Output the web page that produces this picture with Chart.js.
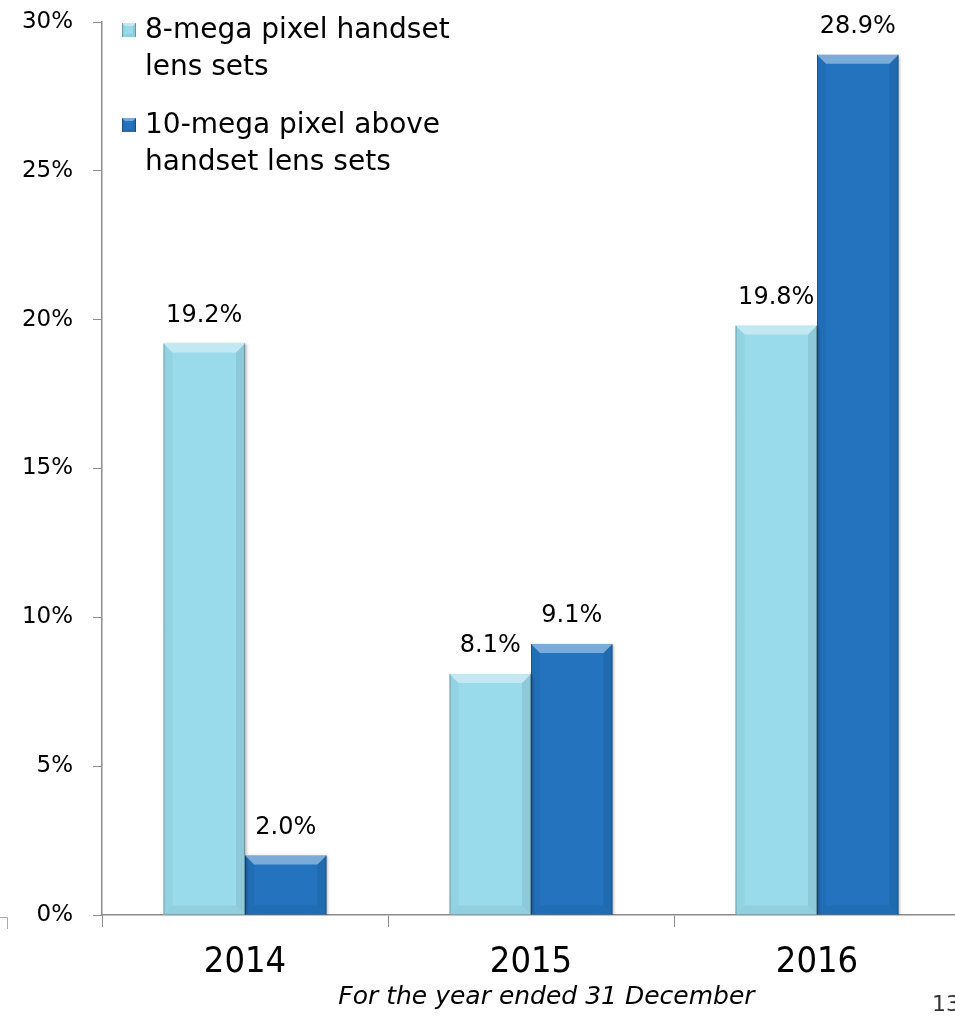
<!DOCTYPE html>
<html>
<head>
<meta charset="utf-8">
<script src="https://cdn.jsdelivr.net/npm/chart.js@4"></script>
<style>
  html, body { margin: 0; padding: 0; background: #fff; overflow: hidden; }
  #wrap { width: 965px; height: 1018px; }
</style>
</head>
<body>
<div id="wrap"><canvas id="lensChart" width="965" height="1018"></canvas></div>
<script>
// data
const years = ['2014', '2015', '2016'];
const eightMega = [19.2, 8.1, 19.8];
const tenMegaAbove = [2.0, 9.1, 28.9];
const seriesNames = [['8-mega pixel handset', 'lens sets'], ['10-mega pixel above', 'handset lens sets']];
const axisTitle = 'For the year ended 31 December';
const pageNo = '13';

const FONT = '"DejaVu Sans", sans-serif';
const NARROW = '"DejaVu Sans Condensed", "DejaVu Sans", sans-serif';
const lightBlue = '#99dbeb';
const darkBlue = '#2373be';
const axisGrey = '#8c8c8c';

// bevelled look of the bars (top highlight, darker sides)
function bevel(ctx, l, t, r, b, s) {
    ctx.save();
    ctx.fillStyle = 'rgba(255,255,255,0.4)';
    ctx.beginPath();
    ctx.moveTo(l, t); ctx.lineTo(r, t); ctx.lineTo(r - s, t + s); ctx.lineTo(l + s, t + s);
    ctx.closePath(); ctx.fill();
    ctx.fillStyle = 'rgba(0,0,0,0.04)';
    ctx.beginPath();
    ctx.moveTo(l, t); ctx.lineTo(l + s, t + s); ctx.lineTo(l + s, b - s); ctx.lineTo(l, b);
    ctx.closePath(); ctx.fill();
    ctx.fillStyle = 'rgba(0,0,0,0.08)';
    ctx.beginPath();
    ctx.moveTo(r, t); ctx.lineTo(r - s, t + s); ctx.lineTo(r - s, b - s); ctx.lineTo(r, b);
    ctx.closePath(); ctx.fill();
    ctx.fillStyle = 'rgba(0,0,0,0.05)';
    ctx.beginPath();
    ctx.moveTo(l, b); ctx.lineTo(l + s, b - s); ctx.lineTo(r - s, b - s); ctx.lineTo(r, b);
    ctx.closePath(); ctx.fill();
    // thin dark outline on the sides
    ctx.strokeStyle = 'rgba(0,0,0,0.25)';
    ctx.lineWidth = 1;
    ctx.beginPath();
    ctx.moveTo(l + 0.5, t); ctx.lineTo(l + 0.5, b);
    ctx.moveTo(r - 0.5, t); ctx.lineTo(r - 0.5, b);
    ctx.stroke();
    ctx.restore();
}

const barDecor = {
    id: 'barDecor',
    beforeDatasetsDraw(chart) {
        const ctx = chart.ctx;
        ctx.save();
        ctx.shadowColor = 'rgba(0,0,0,0.3)';
        ctx.shadowBlur = 3;
        ctx.shadowOffsetX = 1.5;
        ctx.shadowOffsetY = 1;
    },
    afterDatasetsDraw(chart) {
        const ctx = chart.ctx;
        ctx.restore();
        chart.data.datasets.forEach((ds, i) => {
            chart.getDatasetMeta(i).data.forEach((bar, j) => {
                const l = bar.x - bar.width / 2, r = bar.x + bar.width / 2;
                bevel(ctx, l, bar.y, r, bar.base, 9);
                ctx.save();
                ctx.fillStyle = '#000';
                ctx.font = '24px ' + FONT;
                ctx.textAlign = 'center';
                ctx.textBaseline = 'middle';
                ctx.fillText(ds.data[j].toFixed(1) + '%', bar.x, bar.y - 28);
                ctx.restore();
            });
        });
    },
    afterDraw(chart) {
        const ctx = chart.ctx;
        const area = chart.chartArea;
        ctx.save();
        // legend
        const colors = [lightBlue, darkBlue];
        const rowTop = [area.top + 8, area.top + 103];
        seriesNames.forEach((lines, i) => {
            const mx = area.left + 20, my = rowTop[i] - 7;
            ctx.fillStyle = colors[i];
            ctx.fillRect(mx, my, 14, 14);
            bevel(ctx, mx, my, mx + 14, my + 14, 3);
            ctx.fillStyle = '#000';
            ctx.font = '28px ' + FONT;
            ctx.textAlign = 'left';
            ctx.textBaseline = 'middle';
            lines.forEach((ln, k) => ctx.fillText(ln, area.left + 43, rowTop[i] + 1 + k * 37));
        });
        // axis caption
        ctx.font = 'italic 25px ' + FONT;
        ctx.textAlign = 'center';
        ctx.textBaseline = 'middle';
        ctx.fillText(axisTitle, area.left + (area.right - area.left) * 0.518, area.bottom + 82);
        // page number
        ctx.fillStyle = '#333';
        ctx.font = '22px ' + FONT;
        ctx.textAlign = 'left';
        ctx.fillText(pageNo, 932, area.bottom + 90);
        // slide corner mark
        ctx.strokeStyle = '#aaa';
        ctx.lineWidth = 1;
        ctx.beginPath();
        ctx.moveTo(0, area.bottom + 2.5); ctx.lineTo(7.5, area.bottom + 2.5); ctx.lineTo(7.5, area.bottom + 14);
        ctx.stroke();
        ctx.restore();
    }
};

const lensChart = new Chart(document.getElementById('lensChart').getContext('2d'), {
    type: 'bar',
    data: {
        labels: years,
        datasets: [{
            label: seriesNames[0].join(' '),
            data: eightMega,
            backgroundColor: lightBlue,
            borderWidth: 0
        }, {
            label: seriesNames[1].join(' '),
            data: tenMegaAbove,
            backgroundColor: darkBlue,
            borderWidth: 0
        }]
    },
    options: {
        responsive: false,
        animation: false,
        layout: { padding: { top: 22, right: 5 } },
        plugins: {
            legend: { display: false },
            tooltip: { enabled: false }
        },
        datasets: {
            bar: { categoryPercentage: 0.57, barPercentage: 1.0 }
        },
        scales: {
            x: {
                grid: { drawOnChartArea: false, tickLength: 12, color: axisGrey, offset: true },
                border: { color: axisGrey, width: 1.5 },
                ticks: { color: '#000', font: { family: NARROW, size: 36 }, padding: 14 },
                afterFit(scale) { scale.height = 103; }
            },
            y: {
                min: 0,
                max: 30,
                grid: { drawOnChartArea: false, tickLength: 9, color: axisGrey },
                border: { color: axisGrey, width: 1.5 },
                ticks: {
                    stepSize: 5,
                    color: '#000',
                    font: { family: FONT, size: 23 },
                    padding: 20,
                    callback: v => v + '%'
                },
                afterFit(scale) {
                    scale.width = 102;
                    scale.paddingTop = 0;
                    scale.paddingBottom = 0;
                }
            }
        }
    },
    plugins: [barDecor]
});
</script>
</body>
</html>
